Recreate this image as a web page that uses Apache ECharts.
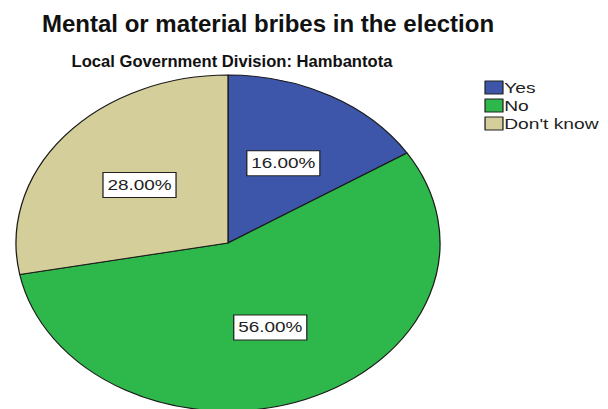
<!DOCTYPE html>
<html>
<head>
<meta charset="utf-8">
<script src="https://cdn.jsdelivr.net/npm/echarts@6/dist/echarts.min.js"></script>
<style>
  html, body { margin: 0; padding: 0; background: #fff; }
  #wrap { position: relative; width: 608px; height: 409px; overflow: hidden; }
  #pie, #titles, #legend { position: absolute; left: 0; top: 0; width: 608px; height: 409px; }
  /* the pie (with its labels) is drawn round and widened into an ellipse */
  #pie { transform-origin: 228px 243px; transform: scaleX(1.262); }
  /* the legend uses the same wide lettering */
  #legend { transform-origin: 478px 0; transform: scaleX(1.28); }
</style>
</head>
<body>
<div id="wrap">
  <div id="pie"></div>
  <div id="titles"></div>
  <div id="legend"></div>
</div>
<script>
// Data
const categories = ['Yes', 'No', "Don't know"];
const percents = [16, 56, 28];
const colors = ['#3d56aa', '#2eb84b', '#d4cf9a'];

// Pie geometry (circle before the horizontal stretch)
const CX = 228, CY = 243, R = 168;

const items = categories.map((name, i) => ({ name: name, value: percents[i] }));

// Slices and percentage labels
const pieChart = echarts.init(document.getElementById('pie'), null, { renderer: 'svg' });
pieChart.setOption({
  animation: false,
  color: colors,
  series: [{
    type: 'pie',
    center: [CX, CY],
    radius: [0, R],
    startAngle: 90,
    clockwise: true,
    silent: true,
    data: items,
    label: { show: false },
    labelLine: { show: false },
    itemStyle: { borderColor: '#1a1a1a', borderWidth: 1 },
    emphasis: { disabled: true }
  }, {
    // transparent copy that only carries the value labels
    type: 'pie',
    center: [CX, CY],
    radius: [0, 176],
    startAngle: 90,
    clockwise: true,
    silent: true,
    data: items,
    itemStyle: { color: 'rgba(0,0,0,0)', borderWidth: 0 },
    emphasis: { disabled: true },
    labelLine: { show: false },
    label: {
      show: true,
      position: 'inside',
      formatter: p => p.value.toFixed(2) + '%',
      fontFamily: 'Liberation Sans',
      fontSize: 15,
      color: '#222',
      backgroundColor: '#fff',
      borderColor: '#222',
      borderWidth: 1,
      padding: [5, 3, 4, 3]
    }
  }]
});

// Titles
const titles = echarts.init(document.getElementById('titles'), null, { renderer: 'svg' });
titles.setOption({
  animation: false,
  title: [{
    text: 'Mental or material bribes in the election',
    left: 263, top: 6, textAlign: 'center',
    textStyle: { fontFamily: 'Liberation Sans', fontWeight: 'bold', fontSize: 24, color: '#111' }
  }, {
    text: 'Local Government Division: Hambantota',
    left: 227, top: 48, textAlign: 'center',
    textStyle: { fontFamily: 'Liberation Sans', fontWeight: 'bold', fontSize: 16.6, color: '#111' }
  }]
});

// Legend
const legendChart = echarts.init(document.getElementById('legend'), null, { renderer: 'svg' });
legendChart.setOption({
  animation: false,
  legend: {
    orient: 'vertical',
    left: 478, top: 75,
    icon: 'rect',
    itemWidth: 14, itemHeight: 13, itemGap: 3,
    selectedMode: false,
    textStyle: { fontFamily: 'Liberation Sans', fontSize: 15, color: '#222', padding: [0, 0, 0, -4] },
    data: categories.map((n, i) => ({
      name: n,
      itemStyle: { color: colors[i], opacity: 1, borderColor: '#222', borderWidth: 1 }
    }))
  },
  series: [{
    type: 'pie',
    radius: 0,
    silent: true,
    data: items,
    label: { show: false },
    labelLine: { show: false },
    itemStyle: { color: 'rgba(0,0,0,0)', borderWidth: 0 }
  }]
});
</script>
</body>
</html>
